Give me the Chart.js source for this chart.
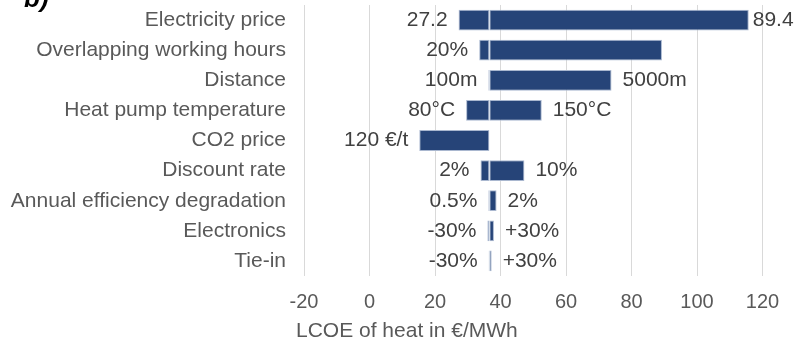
<!DOCTYPE html>
<html>
<head>
<meta charset="utf-8">
<script src="https://cdn.jsdelivr.net/npm/chart.js@4"></script>
<style>
  html, body { margin: 0; padding: 0; background: #fff; }
  #wrap { width: 795px; height: 349px; position: relative; }
</style>
</head>
<body>
<div id="wrap"><canvas id="tornado"></canvas></div>
<script>
// ---------- Data ----------
const categories = [
  "Electricity price", "Overlapping working hours", "Distance",
  "Heat pump temperature", "CO2 price", "Discount rate",
  "Annual efficiency degradation", "Electronics", "Tie-in",
];
const baseLcoe = 36.6;
const lowLcoe  = [27.2, 33.5, 36.3, 29.5, 15.2, 33.9, 36.3, 36.0, 36.4];
const highLcoe = [115.8, 89.3, 73.9, 52.6, null, 47.3, 38.8, 38.0, 37.3];
const lowLabels  = ["27.2", "20%", "100m", "80°C", "120 €/t", "2%", "0.5%", "-30%", "-30%"];
const highLabels = ["89.4", "", "5000m", "150°C", "", "10%", "2%", "+30%", "+30%"];
const xTicks = { min: -20, max: 120, step: 20 };

const FONT = `"Liberation Sans", Arial, sans-serif`;
const BAR = "#264478";
const GREY = "#595959";

Chart.defaults.font.family = FONT;

// floating bars: low -> base, base -> high
const lowBars  = lowLcoe.map((v) => (v == null ? null : [v, baseLcoe]));
const highBars = highLcoe.map((v) => (v == null ? null : [baseLcoe, v]));

const barStyle = {
  backgroundColor: BAR,
  borderColor: "#a9b7cf",
  borderWidth: 1,
  borderSkipped: false,
  grouped: false,
  categoryPercentage: 1,
  barPercentage: 0.69,
};

// Helper: value labels beside bar ends + extra texts
const extraText = {
  id: "extraText",
  afterDraw(chart) {
    const { ctx, scales } = chart;
    const xs = scales.x, ys = scales.y;
    ctx.save();
    ctx.font = `21px ${FONT}`;
    ctx.fillStyle = "#404040";
    ctx.textBaseline = "middle";
    categories.forEach((_, i) => {
      const y = ys.getPixelForValue(i);
      if (lowLabels[i]) {
        ctx.textAlign = "right";
        ctx.fillText(lowLabels[i], xs.getPixelForValue(lowLcoe[i]) - 11, y);
      }
      if (highLabels[i] && highLcoe[i] != null) {
        const end = xs.getPixelForValue(highLcoe[i]);
        const w = ctx.measureText(highLabels[i]).width;
        let x = end + 11;
        if (x + w > chart.width - 1) x = end + 4;
        ctx.textAlign = "left";
        ctx.fillText(highLabels[i], x, y);
      }
    });

    // axis title
    ctx.fillStyle = GREY;
    ctx.textAlign = "left";
    ctx.fillText("LCOE of heat in €/MWh", 296, 331);

    // panel tag
    ctx.fillStyle = "#000";
    ctx.font = `italic bold 26px ${FONT}`;
    ctx.textBaseline = "alphabetic";
    ctx.fillText("b)", 24, 7);
    ctx.restore();
  },
};

// ---------- Tornado chart ----------
new Chart(document.getElementById("tornado"), {
  type: "bar",
  data: {
    labels: categories,
    datasets: [
      { label: "low", data: lowBars, ...barStyle },
      { label: "high", data: highBars, ...barStyle },
    ],
  },
  options: {
    indexAxis: "y",
    responsive: true,
    maintainAspectRatio: false,
    animation: false,
    layout: { padding: { top: 5, right: 32.5, left: 0, bottom: 0 } },
    scales: {
      x: {
        type: "linear",
        min: xTicks.min,
        max: xTicks.max,
        ticks: { stepSize: xTicks.step, color: GREY, font: { size: 20 }, padding: 14 },
        grid: { color: "#d9d9d9", drawTicks: false },
        border: { display: false },
        afterFit: (s) => { s.height = 73; s.paddingLeft = 0; s.paddingRight = 0; },
      },
      y: {
        grid: { display: false },
        border: { display: false },
        ticks: { color: GREY, font: { size: 21 }, padding: 10, autoSkip: false },
        afterFit: (s) => { s.width = 304; s.paddingTop = 0; s.paddingBottom = 0; },
      },
    },
    plugins: {
      legend: { display: false },
      tooltip: { enabled: false },
    },
  },
  plugins: [extraText],
});
</script>
</body>
</html>
